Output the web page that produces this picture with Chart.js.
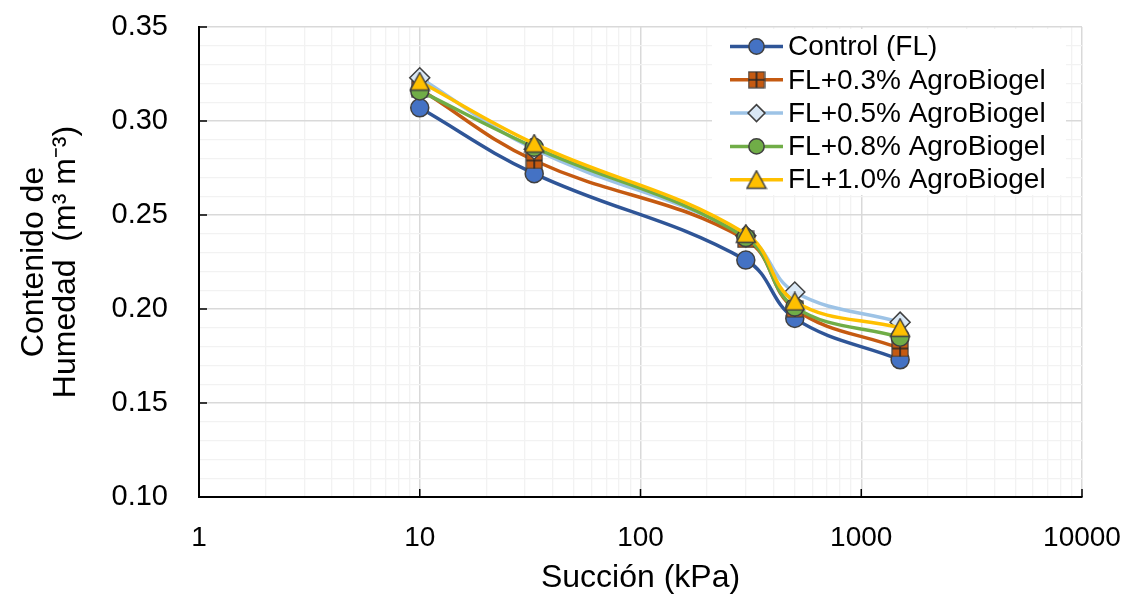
<!DOCTYPE html>
<html>
<head>
<meta charset="utf-8">
<script src="https://cdn.jsdelivr.net/npm/chart.js@4/dist/chart.umd.min.js"></script>
<style>
  html, body { margin: 0; padding: 0; background: #fff; }
  #wrap { width: 1131px; height: 594px; position: relative; }
</style>
</head>
<body>
<div id="wrap"><canvas id="chart"></canvas></div>
<script>
// suction (kPa) and moisture content per treatment
const suction = [10, 33, 300, 500, 1500]
const control = [0.307, 0.272, 0.226, 0.195, 0.173]
const fl03 = [0.317, 0.279, 0.237, 0.200, 0.179]
const fl05 = [0.323, 0.285, 0.239, 0.209, 0.193]
const fl08 = [0.316, 0.286, 0.238, 0.201, 0.185]
const fl10 = [0.321, 0.288, 0.240, 0.204, 0.190]

const seriesNames = ['Control (FL)', 'FL+0.3% AgroBiogel', 'FL+0.5% AgroBiogel', 'FL+0.8% AgroBiogel', 'FL+1.0% AgroBiogel']
const xDecades = [1, 10, 100, 1000, 10000]
const xMinorSteps = [2, 3, 4, 5, 6, 7, 8, 9]
const yMajorTicks = [0.10, 0.15, 0.20, 0.25, 0.30, 0.35]

const FONT = "'Liberation Sans', Arial, sans-serif"
const MARKER_EDGE = '#404040'

// little canvases for the square-with-cross and triangle markers
function squareCross() {
	const c = document.createElement('canvas')
	c.width = 18; c.height = 18
	const g = c.getContext('2d')
	g.fillStyle = '#C55A11'
	g.strokeStyle = MARKER_EDGE
	g.lineWidth = 1.2
	g.fillRect(1, 1, 16, 16)
	g.strokeRect(1, 1, 16, 16)
	g.strokeStyle = '#262626'
	g.lineWidth = 1.6
	g.beginPath()
	g.moveTo(9, 1); g.lineTo(9, 17)
	g.moveTo(1, 9); g.lineTo(17, 9)
	g.stroke()
	return c
}
function triangle() {
	const c = document.createElement('canvas')
	c.width = 22; c.height = 20
	const g = c.getContext('2d')
	g.fillStyle = '#FFC000'
	g.strokeStyle = MARKER_EDGE
	g.lineWidth = 1.5
	g.beginPath()
	g.moveTo(11, 1); g.lineTo(20.5, 18.5); g.lineTo(1.5, 18.5); g.closePath()
	g.fill(); g.stroke()
	return c
}

const toXY = (ys) => suction.map((x, i) => ({ x: x, y: ys[i] }))

const styles = [
	{ line: '#2F5597', fill: '#4472C4', point: 'circle', radius: 9 },
	{ line: '#C55A11', fill: '#C55A11', point: squareCross(), radius: 9 },
	{ line: '#9DC3E6', fill: '#DAE8F5', point: 'rectRot', radius: 10 },
	{ line: '#70AD47', fill: '#70AD47', point: 'circle', radius: 9 },
	{ line: '#FFC000', fill: '#FFC000', point: triangle(), radius: 10 }
]
const values = [control, fl03, fl05, fl08, fl10]

const datasets = values.map((v, i) => ({
	label: seriesNames[i],
	data: toXY(v),
	borderColor: styles[i].line,
	backgroundColor: styles[i].fill,
	borderWidth: 3.5,
	tension: 0.4,
	pointStyle: styles[i].point,
	pointRadius: styles[i].radius,
	pointBackgroundColor: styles[i].fill,
	pointBorderColor: MARKER_EDGE,
	pointBorderWidth: 1.5,
	order: values.length - i
}))

const isDecade = (v) => Math.abs(Math.log10(v) - Math.round(Math.log10(v))) < 1e-9
const isMajorY = (v) => Math.round(v * 100) % 5 === 0

// inward tick marks like the spreadsheet
const innerTicks = {
	id: 'innerTicks',
	afterDraw(chart) {
		const { ctx, chartArea, scales } = chart
		ctx.save()
		ctx.strokeStyle = '#000'
		ctx.lineWidth = 1.5
		ctx.beginPath()
		yMajorTicks.forEach(v => {
			const y = scales.y.getPixelForValue(v)
			ctx.moveTo(chartArea.left, y); ctx.lineTo(chartArea.left + 8, y)
		})
		xDecades.forEach(v => {
			const x = scales.x.getPixelForValue(v)
			ctx.moveTo(x, chartArea.bottom); ctx.lineTo(x, chartArea.bottom - 8)
		})
		ctx.stroke()
		ctx.restore()
	}
}

// legend inside the plot, top right, on a white box
const boxLegend = {
	id: 'boxLegend',
	beforeDatasetsDraw(chart) {
		const { ctx, chartArea } = chart
		const left = chartArea.right - 370
		const top = chartArea.top + 2
		const rowH = 33.3
		ctx.save()
		ctx.fillStyle = '#fff'
		ctx.fillRect(left, top, 354, 166)
		chart.data.datasets.forEach((ds, i) => {
			const y = top + 17.5 + i * rowH
			ctx.strokeStyle = ds.borderColor
			ctx.lineWidth = 3.5
			ctx.beginPath()
			ctx.moveTo(left + 18, y); ctx.lineTo(left + 71, y)
			ctx.stroke()
			ctx.fillStyle = ds.pointBackgroundColor
			ctx.strokeStyle = MARKER_EDGE
			ctx.lineWidth = 1.5
			Chart.helpers.drawPoint(ctx, { pointStyle: ds.pointStyle, radius: ds.pointRadius * 0.85, rotation: 0, borderWidth: 1.5 }, left + 44.5, y)
			ctx.fillStyle = '#000'
			ctx.font = '28px ' + FONT
			ctx.textBaseline = 'middle'
			ctx.textAlign = 'left'
			ctx.fillText(ds.label, left + 76, y + 1)
		})
		ctx.restore()
	}
}

new Chart(document.getElementById('chart'), {
	type: 'line',
	data: { datasets: datasets },
	plugins: [boxLegend, innerTicks],
	options: {
		responsive: true,
		maintainAspectRatio: false,
		animation: false,
		events: [],
		layout: { padding: { top: 27, right: 49, left: 0, bottom: 0 } },
		plugins: {
			legend: { display: false },
			tooltip: { enabled: false }
		},
		scales: {
			x: {
				type: 'logarithmic',
				min: 1,
				max: 10000,
				afterBuildTicks: (scale) => {
					const t = []
					xDecades.forEach(d => {
						t.push({ value: d, major: true })
						if (d < 10000) xMinorSteps.forEach(m => t.push({ value: d * m }))
					})
					scale.ticks = t
				},
				afterFit: (scale) => {
					scale.height = 97
					scale.paddingLeft = 0
					scale.paddingRight = 0
				},
				grid: {
					color: (c) => isDecade(c.tick.value) ? '#D9D9D9' : '#F2F2F2',
					lineWidth: (c) => isDecade(c.tick.value) ? 1.5 : 1.3,
					drawTicks: false
				},
				border: { color: '#000', width: 2 },
				ticks: {
					autoSkip: false,
					maxRotation: 0,
					padding: 24,
					color: '#000',
					font: { family: FONT, size: 28 },
					callback: (v) => isDecade(v) ? String(v) : ''
				},
				title: {
					display: true,
					text: 'Succión (kPa)',
					color: '#000',
					font: { family: FONT, size: 32, lineHeight: 1.0 },
					padding: { top: 0, bottom: 0 }
				}
			},
			y: {
				min: 0.1,
				max: 0.35,
				afterFit: (scale) => {
					scale.width = 199
					scale.paddingTop = 0
					scale.paddingBottom = 0
				},
				grid: {
					color: (c) => isMajorY(c.tick.value) ? '#D9D9D9' : '#F2F2F2',
					lineWidth: (c) => isMajorY(c.tick.value) ? 1.5 : 1.3,
					drawTicks: false
				},
				border: { color: '#000', width: 2 },
				ticks: {
					stepSize: 0.01,
					autoSkip: false,
					padding: 31,
					color: '#000',
					font: { family: FONT, size: 29 },
					callback: (v) => isMajorY(v) ? v.toFixed(2) : ''
				},
				title: {
					display: true,
					text: ['Contenido de', 'Humedad  (m³ m⁻³)'],
					color: '#000',
					font: { family: FONT, size: 32, lineHeight: 1.0 },
					padding: { top: 18, bottom: 0 }
				}
			}
		}
	}
})
</script>
</body>
</html>
